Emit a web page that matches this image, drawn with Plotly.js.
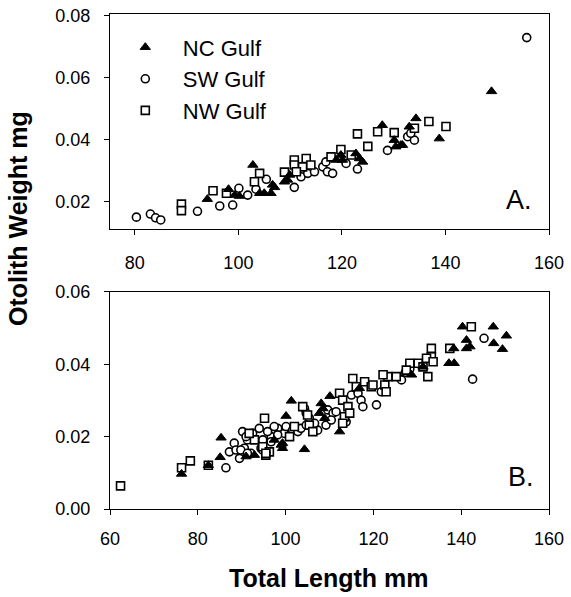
<!DOCTYPE html>
<html>
<head>
<meta charset="utf-8">
<script src="https://cdn.plot.ly/plotly-3.0.1.min.js"></script>
<style>html,body{margin:0;padding:0;background:#fff;}#chart{width:571px;height:597px;}</style>
</head>
<body>
<div id="chart"></div>
<script>
// Panel A data
var ncA_x = [94, 98.1, 99.3, 100.2, 102.8, 104.1, 105.0, 106.3, 106.6, 107, 108.9, 109.9, 109.5, 118.9, 120.1, 119.8, 122.7, 123.4, 124, 127.8, 130.1, 131.4, 130.4, 134.3, 138.8, 133, 131.7, 148.9];
var ncA_y = [0.0209, 0.0241, 0.0222, 0.0219, 0.0319, 0.0228, 0.0228, 0.0228, 0.0255, 0.0247, 0.0265, 0.0287, 0.0271, 0.0335, 0.0335, 0.0351, 0.0356, 0.034, 0.0329, 0.0447, 0.0399, 0.0383, 0.0378, 0.0469, 0.0404, 0.0442, 0.0383, 0.0556];
var swA_x = [80.3, 83, 84, 85, 92.1, 96.4, 98.9, 100.1, 101.8, 103.4, 105.4, 110.8, 112.1, 113.4, 114.7, 116.3, 117.2, 118.2, 116.9, 120.8, 123, 128.8, 132.7, 134, 133.3, 155.7];
var swA_y = [0.0151, 0.0161, 0.0149, 0.0142, 0.017, 0.0187, 0.019, 0.0244, 0.0222, 0.0241, 0.0273, 0.0247, 0.0281, 0.0292, 0.0297, 0.0313, 0.0297, 0.0292, 0.0329, 0.0324, 0.0306, 0.0366, 0.041, 0.0399, 0.0421, 0.0729];
var nwA_x = [89, 89, 95.1, 97.7, 104.1, 103.1, 108.9, 110.8, 110.8, 113.1, 112.4, 114.0, 111.2, 117.9, 119.8, 121.8, 125, 123, 126.9, 130.1, 134, 136.8, 140.1];
var nwA_y = [0.0193, 0.0172, 0.0236, 0.0228, 0.0292, 0.0265, 0.0296, 0.0335, 0.0319, 0.034, 0.0313, 0.0319, 0.0297, 0.0345, 0.0369, 0.0351, 0.0379, 0.0419, 0.0426, 0.0423, 0.0437, 0.0459, 0.0443];

// Panel B data
var ncB_x = [76.3, 82.4, 85.3, 85.1, 91, 92.9, 97.4, 99, 99.3, 99.3, 100.1, 101.3, 104.3, 108.1, 108.5, 107.7, 108.9, 110.1, 112.3, 116.8, 128.7, 131.3, 138.3, 137.2, 138.4, 141.2, 141.2, 142, 140.3, 147.3, 147.4, 150.3, 149.4];
var ncB_y = [0.0097, 0.0121, 0.0197, 0.0143, 0.0145, 0.0149, 0.0191, 0.0177, 0.0168, 0.0182, 0.0257, 0.0299, 0.0165, 0.0292, 0.0278, 0.0265, 0.0251, 0.0312, 0.0214, 0.0334, 0.0371, 0.0393, 0.0444, 0.0403, 0.0403, 0.0467, 0.0444, 0.0449, 0.0504, 0.0504, 0.0458, 0.0479, 0.0442];
var swB_x = [86.4, 87.2, 88.3, 89.5, 90.2, 90.6, 91.7, 92.1, 91.3, 88.7, 92.5, 94.8, 94.4, 96.7, 98.2, 99.7, 91, 89.8, 91.3, 94, 95.9, 96.7, 94.8, 97.4, 98.2, 100.1, 101.6, 102.8, 103.5, 104.3, 104.7, 105.4, 107.3, 106.6, 104.7, 109.6, 110.8, 111.5, 109.2, 110.4, 113.8, 113.4, 115, 116.5, 117.2, 117.6, 120.7, 121.8, 126.4, 127.3, 128.3, 145.2, 142.6];
var swB_y = [0.0114, 0.0158, 0.0182, 0.014, 0.0214, 0.0168, 0.02, 0.0154, 0.0191, 0.0163, 0.0209, 0.0191, 0.0168, 0.02, 0.0223, 0.0209, 0.02, 0.0163, 0.0154, 0.0223, 0.0214, 0.0186, 0.0163, 0.0228, 0.0205, 0.0228, 0.0218, 0.0214, 0.0223, 0.0278, 0.0265, 0.0251, 0.0218, 0.0237, 0.0232, 0.0274, 0.0265, 0.0269, 0.0232, 0.0246, 0.0241, 0.0251, 0.0315, 0.032, 0.0301, 0.0283, 0.0288, 0.0324, 0.0357, 0.0378, 0.0387, 0.0472, 0.0359];
var nwB_x = [62.4, 76.3, 78.3, 82.4, 92.9, 91.7, 95.2, 94.8, 96.3, 95.5, 95.5, 100.9, 102, 103.9, 105.4, 106.2, 105, 112.3, 113, 114.2, 113.4, 114.6, 113, 115.3, 116.1, 118, 119.5, 119.9, 122.6, 122.9, 123.3, 122.2, 125.2, 128.3, 127.5, 130.2, 131.3, 132.4, 133.2, 133.2, 132.1, 133.6, 137.4, 142.3];
var nwB_y = [0.0064, 0.0114, 0.0133, 0.0121, 0.0191, 0.0209, 0.0251, 0.0172, 0.0158, 0.0149, 0.0154, 0.02, 0.0228, 0.0283, 0.0232, 0.0214, 0.026, 0.032, 0.0301, 0.0283, 0.0255, 0.0265, 0.0237, 0.0361, 0.0338, 0.0352, 0.0338, 0.0343, 0.0343, 0.0324, 0.0366, 0.0371, 0.0366, 0.0403, 0.0384, 0.0403, 0.0393, 0.0366, 0.0421, 0.0444, 0.0417, 0.0407, 0.0444, 0.0504];

var seriesNames = ['NC Gulf', 'SW Gulf', 'NW Gulf'];
var xTicksA = [80, 100, 120, 140, 160];
var xTicksB = [60, 80, 100, 120, 140, 160];
var yTicksA = [0.02, 0.04, 0.06, 0.08];
var yTicksB = [0.00, 0.02, 0.04, 0.06];

var FONT = 'Liberation Sans, Arial, sans-serif';
var mTri = {symbol: 'triangle-up', size: 9, color: '#000', line: {color: '#000', width: 1}};
var mCir = {symbol: 'circle', size: 8, color: '#fff', line: {color: '#000', width: 1.6}};
var mSq = {symbol: 'square', size: 8, color: '#fff', line: {color: '#000', width: 1.6}};

var traces = [
  {x: swA_x, y: swA_y, name: seriesNames[1], mode: 'markers', type: 'scatter', marker: mCir, xaxis: 'x', yaxis: 'y', legendrank: 2},
  {x: nwA_x, y: nwA_y, name: seriesNames[2], mode: 'markers', type: 'scatter', marker: mSq, xaxis: 'x', yaxis: 'y', legendrank: 3},
  {x: ncA_x, y: ncA_y, name: seriesNames[0], mode: 'markers', type: 'scatter', marker: mTri, xaxis: 'x', yaxis: 'y', legendrank: 1},
  {x: swB_x, y: swB_y, name: seriesNames[1], mode: 'markers', type: 'scatter', marker: mCir, xaxis: 'x2', yaxis: 'y2', showlegend: false},
  {x: nwB_x, y: nwB_y, name: seriesNames[2], mode: 'markers', type: 'scatter', marker: mSq, xaxis: 'x2', yaxis: 'y2', showlegend: false},
  {x: ncB_x, y: ncB_y, name: seriesNames[0], mode: 'markers', type: 'scatter', marker: mTri, xaxis: 'x2', yaxis: 'y2', showlegend: false}
];

var axBase = {
  showgrid: false, zeroline: false, showline: true, linecolor: '#000', linewidth: 1.2,
  mirror: true, ticks: 'outside', tickcolor: '#000', tickwidth: 1, ticklen: 5,
  tickfont: {family: FONT, size: 18, color: '#000'}
};

var layout = {
  width: 571, height: 597,
  margin: {l: 110, r: 22, t: 14, b: 88},
  paper_bgcolor: '#fff', plot_bgcolor: '#fff',
  font: {family: FONT, color: '#000'},
  showlegend: true,
  legend: {x: -0.005, y: 0.975, xanchor: 'left', yanchor: 'top', bgcolor: 'rgba(0,0,0,0)',
           font: {family: FONT, size: 22, color: '#000'}, itemwidth: 65, traceorder: 'normal', tracegroupgap: 0},
  xaxis: Object.assign({}, axBase, {domain: [0, 1], anchor: 'y', range: [75.2, 160], tickvals: xTicksA, ticklabelstandoff: 12}),
  yaxis: Object.assign({}, axBase, {domain: [0.5657, 1], anchor: 'x', range: [0.0113, 0.0805], tickvals: yTicksA, tickformat: '.2f', ticklabelstandoff: 10}),
  xaxis2: Object.assign({}, axBase, {domain: [0, 1], anchor: 'y2', range: [60, 160], tickvals: xTicksB, ticklabelstandoff: 8}),
  yaxis2: Object.assign({}, axBase, {domain: [0, 0.4384], anchor: 'x2', range: [0, 0.06], tickvals: yTicksB, tickformat: '.2f', ticklabelstandoff: 10}),
  annotations: [
    {text: 'A.', xref: 'x domain', yref: 'y domain', x: 0.932, y: 0.135, xanchor: 'center', yanchor: 'middle', showarrow: false, font: {family: FONT, size: 27, color: '#000'}},
    {text: 'B.', xref: 'x2 domain', yref: 'y2 domain', x: 0.936, y: 0.147, xanchor: 'center', yanchor: 'middle', showarrow: false, font: {family: FONT, size: 27, color: '#000'}},
    {text: '<b>Otolith Weight mg</b>', xref: 'paper', yref: 'paper', x: -0.2096, y: 0.588, xanchor: 'center', yanchor: 'middle', textangle: -90, showarrow: false, font: {family: FONT, size: 25, color: '#000'}},
    {text: '<b>Total Length mm</b>', xref: 'paper', yref: 'paper', x: 0.499, y: -0.139, xanchor: 'center', yanchor: 'middle', showarrow: false, font: {family: FONT, size: 25, color: '#000'}}
  ]
};

Plotly.newPlot('chart', traces, layout, {displayModeBar: false, staticPlot: true});
</script>
</body>
</html>
